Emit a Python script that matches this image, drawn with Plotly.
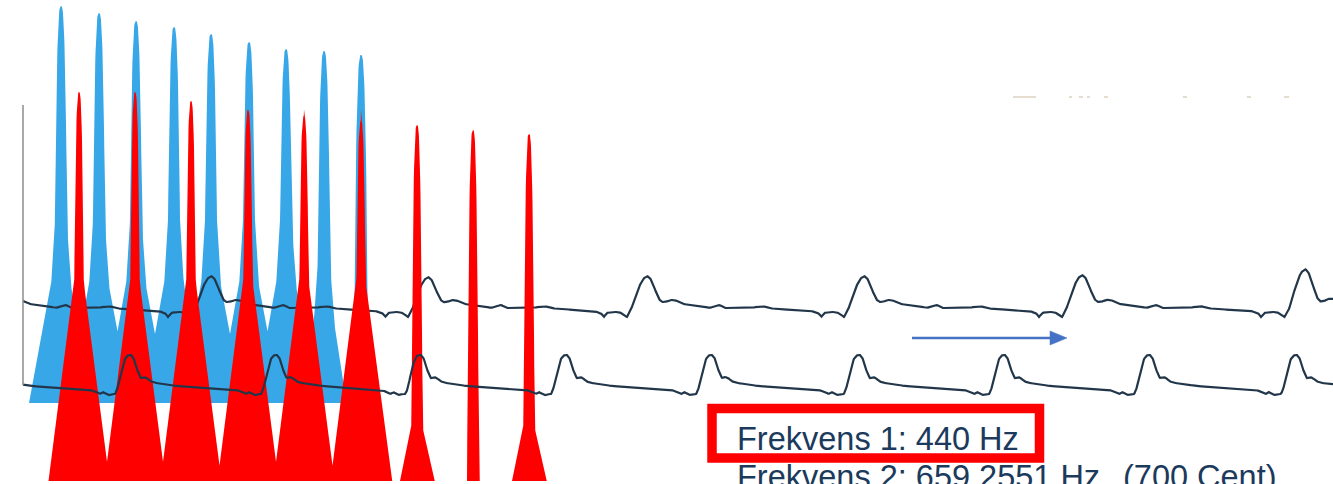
import numpy as np
import plotly.graph_objects as go

# ---------------- data ----------------
# blue spectrum (heights above its baseline)
blue_peak_pos = [61, 99, 136, 174, 211, 249, 286, 324, 361]
blue_peak_top = [397, 390, 382, 376, 369, 361, 354, 352, 348]
blue_body_amp = [360, 360, 360, 360, 360, 360, 360, 330, 0]
blue_tri_amp = [170, 170, 170, 170, 170, 170, 170, 150, 0]
blue_body_reach = [32, 32, 32, 32, 32, 32, 32, 22, 0]

# red spectrum (heights above its baseline)
red_peak_pos = [79, 135, 191, 248, 304, 361, 417, 473, 529]
red_peak_top = [389, 389, 380, 371, 365, 360, 356, 351, 347]
red_body_amp = [380, 380, 380, 380, 380, 380, 150, 0, 150]
red_tri_amp = [235, 235, 235, 235, 235, 235, 80, 0, 80]
red_body_reach = [30.5, 30.5, 30.5, 30.5, 30.5, 30.5, 17, 0, 17]

# waveform 1 (upper) : peak positions, peak levels and one period template
wave1_peaks = [211, 428, 647, 864, 1082, 1305]
wave1_peak_level = [276, 277, 276, 276, 275, 269]
wave1_tmpl_dx = [0, 3, 6, 9, 12, 15, 19, 23, 28, 32, 36, 45, 55, 63, 68, 73, 78, 90, 103,
                 110, 116, 122, 130, 150, 165, 172, 175, 178, 183, 190, 194, 198, 202,
                 206, 210, 214, 218]
wave1_tmpl_y = [276, 278, 284, 292, 299, 302, 302, 300, 300, 302, 304, 305, 306, 308, 306,
                305, 308, 308, 308, 307, 306, 308, 309, 310, 311, 313, 317, 313, 312, 312,
                314, 317, 310, 298, 287, 279, 276]

# waveform 2 (lower)
wave2_peaks = [131, 277, 421, 567, 712, 860, 1005, 1150, 1297]
wave2_tmpl_dx = [0, 2, 4, 6, 8, 10, 13, 16, 19, 24, 35, 45, 60, 75, 90, 105, 112, 115, 118,
                 121, 124, 127, 130, 132, 134, 136, 138, 140, 142, 144, 146]
wave2_tmpl_y = [355, 357, 362, 369, 375, 378, 377, 378, 381, 383, 384, 386, 387, 388, 389,
                390, 392, 394, 392, 394, 395, 394, 394, 390, 382, 372, 364, 359, 356, 355, 355]

# faint marks near the top right
faint_start = [1013, 1069, 1079, 1087, 1104, 1183, 1247, 1284]
faint_end = [1036, 1072, 1083, 1090, 1108, 1187, 1251, 1289]

label1 = "Frekvens 1: 440 Hz"
label2 = "Frekvens 2: 659.2551 Hz"
label3 = "(700 Cent)"

# ---------------- styles ----------------
W, H = 1333, 484
BLUE = "#38a7e8"
RED = "#ff0000"
LINE = "#22364a"
TEXT = "#1b3a5c"
ARROW = "#4472C4"
FONT = "Liberation Sans, Arial, sans-serif"


def spectrum(xs, pos, top, body, tri, reach, spike_w, decay):
    h = np.zeros_like(xs)
    for p, t, b, tr, r in zip(pos, top, body, tri, reach):
        d = np.abs(xs - p)
        spike = np.where(d < spike_w, t * (1 - (d / spike_w) ** 3), 0.0)
        bod = np.zeros_like(xs)
        if b > 0 and r > 0:
            cut = b * np.exp(-r / decay)
            bod = np.clip(b * np.exp(-d / decay) - cut, 0, None)
        if tr > 0 and r > 0:
            bod = np.maximum(bod, np.clip(tr * (1 - d / r), 0, None))
        h = np.maximum(h, np.maximum(spike, bod))
    return h


def wave(xs, peaks, tdx, ty, levels=None, ref=None, base_ref=None):
    period = tdx[-1]
    ext = [peaks[0] - period] + list(peaks) + [peaks[-1] + period]
    idx = np.searchsorted(ext, xs, side="right") - 1
    idx = np.clip(idx, 0, len(ext) - 2)
    p0 = np.array(ext)[idx]
    p1 = np.array(ext)[idx + 1]
    off = (xs - p0) / (p1 - p0) * period
    y = np.interp(off, tdx, ty)
    if levels is not None:
        lv_ext = [levels[0]] + list(levels) + [levels[-1]]
        lv_prev = np.array(lv_ext)[idx]
        lv_next = np.array(lv_ext)[idx + 1]
        lv = np.where(off < period / 2, lv_prev, lv_next)
        wgt = np.clip((base_ref - y) / (base_ref - ref), 0, 1)
        y = y + (lv - ref) * wgt
    return y


fig = go.Figure()

# blue spectrum
xb = np.arange(20, 400, 0.25)
hb = spectrum(xb, blue_peak_pos, blue_peak_top, blue_body_amp, blue_tri_amp,
              blue_body_reach, 7.5, 10)
base_b = 403
fig.add_trace(go.Scatter(
    x=np.concatenate([xb, [xb[-1], xb[0]]]),
    y=np.concatenate([base_b - hb, [base_b, base_b]]),
    mode="lines", fill="toself", fillcolor=BLUE, line=dict(width=0, color=BLUE),
    hoverinfo="skip"))

# upper waveform
xw = np.arange(23, 1333.5, 0.5)
y1 = wave(xw, wave1_peaks, wave1_tmpl_dx, wave1_tmpl_y, wave1_peak_level, 276, 305)
fig.add_trace(go.Scatter(x=xw, y=y1, mode="lines", line=dict(color=LINE, width=2.2),
                         hoverinfo="skip"))

# red spectrum
xr = np.arange(40, 570, 0.25)
hr = spectrum(xr, red_peak_pos, red_peak_top, red_body_amp, red_tri_amp,
              red_body_reach, 6, 8)
base_r = 481
fig.add_trace(go.Scatter(
    x=np.concatenate([xr, [xr[-1], xr[0]]]),
    y=np.concatenate([base_r - hr, [base_r, base_r]]),
    mode="lines", fill="toself", fillcolor=RED, line=dict(width=0, color=RED),
    hoverinfo="skip"))

# lower waveform
y2 = wave(xw, wave2_peaks, wave2_tmpl_dx, wave2_tmpl_y)
fig.add_trace(go.Scatter(x=xw, y=y2, mode="lines", line=dict(color=LINE, width=2.2),
                         hoverinfo="skip"))

# faint marks
fx, fy = [], []
for a, b in zip(faint_start, faint_end):
    fx += [a, b, None]
    fy += [97, 97, None]
fig.add_trace(go.Scatter(x=fx, y=fy, mode="lines", line=dict(color="#e4ddd0", width=2),
                         hoverinfo="skip"))

shapes = [
    dict(type="line", x0=23, x1=23, y0=105, y1=385, line=dict(color="#8c8c8c", width=1.5)),
    dict(type="line", x0=912, x1=1052, y0=338, y1=338, line=dict(color=ARROW, width=2.7)),
    dict(type="path", path="M 1050 331 L 1067 338 L 1050 345 Z", fillcolor=ARROW,
         line=dict(color=ARROW, width=0.5)),
    dict(type="rect", x0=712, x1=1039.5, y0=408.5, y1=458, line=dict(color=RED, width=9.5),
         fillcolor="rgba(0,0,0,0)"),
]

annotations = [
    dict(x=735, y=439, text=label1, xanchor="left", yanchor="middle", showarrow=False,
         font=dict(family=FONT, size=32.5, color=TEXT)),
    dict(x=735, y=477, text=label2, xanchor="left", yanchor="middle", showarrow=False,
         font=dict(family=FONT, size=32.5, color=TEXT)),
    dict(x=1121, y=477, text=label3, xanchor="left", yanchor="middle", showarrow=False,
         font=dict(family=FONT, size=32.5, color=TEXT)),
]

fig.update_layout(
    width=W, height=H, autosize=False,
    margin=dict(l=0, r=0, t=0, b=0, pad=0),
    paper_bgcolor="white", plot_bgcolor="white",
    showlegend=False,
    xaxis=dict(range=[0, W], visible=False, fixedrange=True),
    yaxis=dict(range=[H, 0], visible=False, fixedrange=True),
    shapes=shapes, annotations=annotations,
)

fig.write_html(
    "out.html",
    config={"displayModeBar": False, "staticPlot": True},
    post_script="document.body.style.margin='0';document.body.style.overflow='hidden';",
)
